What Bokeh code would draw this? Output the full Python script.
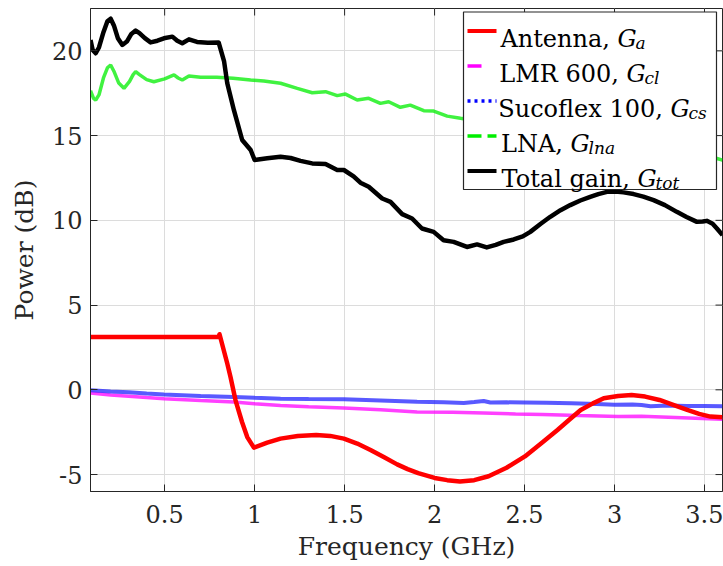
from bokeh.plotting import figure
from bokeh.models import Range1d, FixedTicker, Label
from bokeh.embed import file_html
from bokeh.resources import INLINE

# ---------------- data ----------------
ant_f = [0.088, 0.8, 0.805, 0.848, 0.866, 0.894, 0.93, 0.959, 0.996, 1.07, 1.144, 1.24, 1.342,
         1.42, 1.496, 1.57, 1.644, 1.72, 1.792, 1.85, 1.909, 2.0, 2.07, 2.141, 2.22, 2.3, 2.4,
         2.502, 2.6, 2.683, 2.75, 2.812, 2.88, 2.94, 3.02, 3.095, 3.17, 3.25, 3.33, 3.404,
         3.47, 3.533, 3.6]
ant_g = [3.12, 3.12, 3.28, 1.55, 0.76, -0.62, -1.9, -2.79, -3.41, -3.12, -2.88, -2.72, -2.66,
         -2.72, -2.88, -3.17, -3.55, -3.98, -4.4, -4.68, -4.92, -5.2, -5.33, -5.41, -5.33, -5.1, -4.6,
         -3.93, -3.1, -2.37, -1.75, -1.19, -0.8, -0.5, -0.36, -0.31, -0.4, -0.6, -0.9, -1.19,
         -1.42, -1.58, -1.62]

lmr_f = [0.088, 0.2, 0.3, 0.4, 0.496, 0.7, 0.885, 1.0, 1.144, 1.3, 1.496, 1.7, 1.903, 2.1,
         2.273, 2.45, 2.6, 2.8, 3.02, 3.15, 3.3, 3.45, 3.6]
lmr_g = [-0.19, -0.3, -0.38, -0.46, -0.52, -0.63, -0.72, -0.82, -0.92, -1.0, -1.07, -1.18, -1.31, -1.33,
         -1.37, -1.42, -1.45, -1.52, -1.58, -1.56, -1.62, -1.68, -1.74]

suc_f = [0.088, 0.2, 0.3, 0.4, 0.496, 0.7, 0.885, 1.0, 1.144, 1.3, 1.496, 1.7, 1.903, 2.05,
         2.162, 2.22, 2.273, 2.31, 2.4, 2.5, 2.62, 2.76, 2.9, 3.0, 3.1, 3.15, 3.2, 3.3, 3.4, 3.5, 3.6]
suc_g = [-0.03, -0.1, -0.15, -0.22, -0.27, -0.36, -0.42, -0.47, -0.52, -0.54, -0.56, -0.63, -0.7, -0.74,
         -0.78, -0.72, -0.66, -0.75, -0.74, -0.75, -0.77, -0.8, -0.84, -0.88, -0.87, -0.9, -0.97, -0.93,
         -0.95, -0.96, -0.97]

lna_f = [0.088, 0.105, 0.117, 0.135, 0.16, 0.182, 0.2, 0.218, 0.245, 0.274, 0.305, 0.325, 0.339,
         0.36, 0.4, 0.44, 0.5, 0.552, 0.575, 0.598, 0.635, 0.7, 0.79, 0.88, 0.978, 1.051, 1.144,
         1.237, 1.32, 1.394, 1.459, 1.505, 1.57, 1.634, 1.699, 1.745, 1.81, 1.865, 1.94, 1.995,
         2.07, 2.144, 2.3, 2.5, 2.7, 2.9, 3.1, 3.3, 3.5, 3.569, 3.6]
lna_g = [17.65, 17.2, 17.1, 17.4, 18.4, 19.0, 19.17, 18.8, 18.1, 17.79, 18.2, 18.6, 18.77,
         18.6, 18.3, 18.18, 18.35, 18.58, 18.4, 18.28, 18.52, 18.45, 18.44, 18.38, 18.28, 18.22, 18.09,
         17.79, 17.53, 17.59, 17.36, 17.45, 17.1, 17.2, 16.9, 17.0, 16.67, 16.8, 16.47, 16.45,
         16.15, 16.02, 15.75, 15.45, 15.15, 14.85, 14.5, 14.15, 13.8, 13.65, 13.55]

tot_f = [0.088, 0.1, 0.117, 0.135, 0.16, 0.182, 0.2, 0.218, 0.24, 0.265, 0.29, 0.315, 0.339,
         0.36, 0.39, 0.422, 0.46, 0.496, 0.543, 0.57, 0.598, 0.635, 0.68, 0.74, 0.8, 0.83,
         0.848, 0.885, 0.931, 0.978, 1.0, 1.07, 1.144, 1.2, 1.255, 1.32, 1.394, 1.459, 1.496,
         1.55, 1.588, 1.634, 1.709, 1.755, 1.82, 1.875, 1.93, 1.995, 2.05, 2.106, 2.18, 2.236,
         2.29, 2.34, 2.384, 2.44, 2.49, 2.532, 2.59, 2.643, 2.7, 2.754, 2.81, 2.865, 2.91, 2.958,
         3.004, 3.05, 3.106, 3.16, 3.217, 3.28, 3.346, 3.4, 3.458, 3.49, 3.513, 3.545, 3.569, 3.6]
tot_g = [20.64, 20.05, 19.86, 20.2, 21.1, 21.75, 21.9, 21.5, 20.75, 20.35, 20.55, 21.0, 21.2,
         21.05, 20.75, 20.5, 20.6, 20.74, 20.84, 20.6, 20.45, 20.68, 20.53, 20.48, 20.5, 19.4,
         18.09, 16.5, 14.74, 14.15, 13.56, 13.66, 13.75, 13.68, 13.51, 13.36, 13.32, 12.97, 12.97,
         12.6, 12.22, 11.98, 11.29, 11.09, 10.37, 10.11, 9.52, 9.32, 8.83, 8.73, 8.43, 8.58,
         8.4, 8.55, 8.73, 8.87, 9.05, 9.32, 9.8, 10.21, 10.6, 10.9, 11.17, 11.39, 11.55, 11.68,
         11.7, 11.65, 11.55, 11.4, 11.19, 10.9, 10.5, 10.2, 9.91, 9.93, 9.97, 9.8, 9.52, 9.13]

x_ticks = [0.5, 1.0, 1.5, 2.0, 2.5, 3.0, 3.5]
x_tick_labels = ["0.5", "1", "1.5", "2", "2.5", "3", "3.5"]
y_ticks = [-5, 0, 5, 10, 15, 20]
y_tick_labels = ["-5", "0", "5", "10", "15", "20"]

legend_plain = ["Antenna, ", "LMR 600, ", "Sucoflex 100, ", "LNA, ", "Total gain, "]
legend_sub = ["a", "cl", "cs", "lna", "tot"]

# ---------------- layout ----------------
X0, X1 = 0.088, 3.6
Y0, Y1 = -6.0, 22.5
W, H = 723, 566
FL, FR, FT, FB = 90, 722, 8, 491

FONT = "DejaVu Serif"
TXT = "#262626"

p = figure(width=W, height=H, output_backend="svg", toolbar_location=None,
           x_range=Range1d(X0, X1), y_range=Range1d(Y0, Y1),
           min_border_left=FL, min_border_right=W - FR,
           min_border_top=FT, min_border_bottom=H - FB,
           background_fill_color="white", border_fill_color="white")
p.outline_line_color = TXT
p.outline_line_width = 1

for ax in p.xaxis:
    ax.ticker = FixedTicker(ticks=x_ticks)
    ax.major_label_overrides = {t: l for t, l in zip(x_ticks, x_tick_labels)}
    ax.axis_label = "Frequency (GHz)"
    ax.major_label_standoff = 13
    ax.axis_label_standoff = 6
for ax in p.yaxis:
    ax.ticker = FixedTicker(ticks=y_ticks)
    ax.major_label_overrides = {t: l for t, l in zip(y_ticks, y_tick_labels)}
    ax.axis_label = "Power (dB)"
    ax.major_label_standoff = 8
    ax.axis_label_standoff = 10

for ax in list(p.xaxis) + list(p.yaxis):
    ax.major_label_text_font = FONT
    ax.major_label_text_font_size = "24px"
    ax.major_label_text_color = TXT
    ax.axis_label_text_font = FONT
    ax.axis_label_text_font_size = "25px"
    ax.axis_label_text_font_style = "normal"
    ax.axis_label_text_color = TXT
    ax.axis_line_color = TXT
    ax.major_tick_line_color = TXT
    ax.major_tick_in = 7
    ax.major_tick_out = 0
    ax.minor_tick_line_color = None

p.xgrid.grid_line_color = "#dcdcdc"
p.ygrid.grid_line_color = "#dcdcdc"
p.xgrid.ticker = FixedTicker(ticks=x_ticks)
p.ygrid.ticker = FixedTicker(ticks=y_ticks)


def X(px):
    return X0 + (px - FL) / (FR - FL) * (X1 - X0)


def Y(py):
    return Y1 - (py - FT) / (FB - FT) * (Y1 - Y0)


# inward ticks on the top and right edges of the box (MATLAB "box on")
tick_dx = X(FL + 7) - X(FL)
tick_dy = Y(FT) - Y(FT + 7)
p.segment(x0=x_ticks, x1=x_ticks, y0=[Y1] * len(x_ticks), y1=[Y1 - tick_dy] * len(x_ticks),
          line_color=TXT, line_width=1)
p.segment(x0=[X1] * len(y_ticks), x1=[X1 - tick_dx] * len(y_ticks), y0=y_ticks, y1=y_ticks,
          line_color=TXT, line_width=1)

# ---------------- curves ----------------
p.line(lmr_f, lmr_g, line_color="#ff00ff", line_alpha=0.75, line_width=3.5)
p.line(suc_f, suc_g, line_color="#2222ff", line_alpha=0.75, line_width=4)
p.line(lna_f, lna_g, line_color="#00ee00", line_alpha=0.75, line_width=3.5)
p.line(ant_f, ant_g, line_color="#ff0000", line_width=4.5, line_join="round")
p.line(tot_f, tot_g, line_color="#000000", line_width=4.5, line_join="round")

# ---------------- legend (drawn by hand for math subscripts) ----------------
p.quad(left=[X(463)], right=[X(716)], top=[Y(11.5)], bottom=[Y(189)],
       fill_color="white", line_color=TXT, line_width=1.2)

leg_colors = ["#ff0000", "#ff00ff", "#0000ff", "#00ee00", "#000000"]
leg_dash = ["solid", "14 30", "3 4", "14 6", "solid"]
leg_width = [4, 3.5, 3.5, 3.5, 4]
g_pos = [617, 626, 670, 570, 637]      # pixel x where the italic G starts in each row
FS = 24
SUBFS = 17
base0, step = 38.5, 35.0
for i, (plain, sub) in enumerate(zip(legend_plain, legend_sub)):
    base = base0 + i * step
    ly = Y(base - 8)
    p.line([X(467), X(496)], [ly, ly], line_color=leg_colors[i], line_width=leg_width[i],
           line_dash=leg_dash[i])
    gx = g_pos[i]
    p.add_layout(Label(x=X(gx), y=Y(base), text=plain, text_font=FONT, text_align="right",
                       text_font_size=f"{FS}px", text_baseline="alphabetic", text_color="#000000"))
    p.add_layout(Label(x=X(gx), y=Y(base), text="G", text_font=FONT, text_font_style="italic",
                       text_font_size=f"{FS}px", text_baseline="alphabetic", text_color="#000000"))
    p.add_layout(Label(x=X(gx + 18), y=Y(base + 4), text=sub, text_font=FONT,
                       text_font_style="italic", text_font_size=f"{SUBFS}px",
                       text_baseline="alphabetic", text_color="#000000"))

open("out.html", "w").write(file_html(p, INLINE))
